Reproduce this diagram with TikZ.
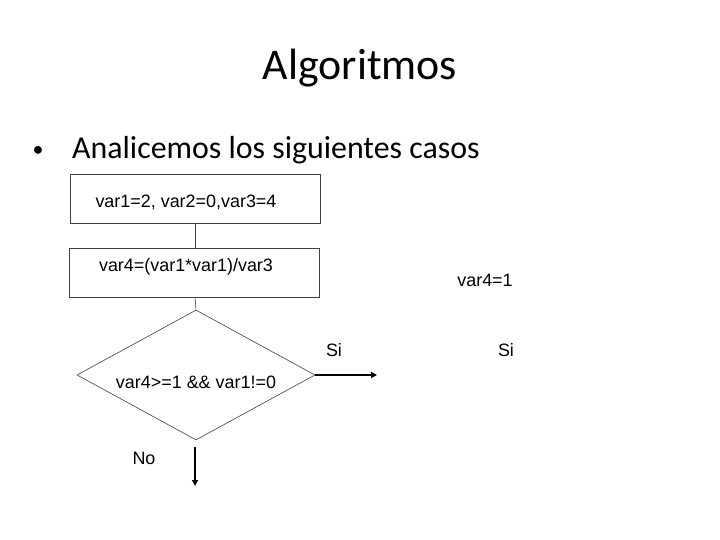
\documentclass[tikz,border=0pt]{standalone}
\usepackage{fontspec}
\setmainfont{Carlito}
\newfontfamily\arialfont{Liberation Sans}
\usetikzlibrary{
  shapes.geometric,
  arrows.meta,
  positioning
}

\begin{document}
\begin{tikzpicture}[
  x = 1bp,
  y = -1bp,
  % ── Process box ─────────────────────────────────────────
  procbox/.style={
    rectangle,
    draw       = black!75,
    line width = 0.6bp,
    minimum width  = 250bp,
    minimum height = 49bp,
    inner sep  = 0pt
  },
  % ── Decision diamond ────────────────────────────────────
  decision/.style={
    diamond,
    draw       = black!75,
    line width = 0.6bp,
    minimum width  = 238bp,
    minimum height = 130bp,
    inner sep  = 0pt
  },
  % ── Lines and arrows ────────────────────────────────────
  link/.style={
    draw = black!75,
    line width = 0.6bp
  },
  arr/.style={
    -{Triangle[length=6bp, width=6bp]},
    line width = 1.6bp
  },
  % ── Text ────────────────────────────────────────────────
  lbl/.style={
    font  = \arialfont\fontsize{18}{20}\selectfont,
    inner sep = 0pt
  }
]

% ── Frame ──────────────────────────────────────────────────
\useasboundingbox (0,0) rectangle (720,540);

% ── Heading ────────────────────────────────────────────────
\node[font=\fontsize{44}{48}\selectfont] (title) at (360,68) {Algoritmos};
\node[font=\fontsize{22}{24}\selectfont] (dot) at (38,151) {\textbullet};
\node[font=\fontsize{32}{36}\selectfont, anchor=west, inner sep=0pt] (bullet) at (72,150)
  {Analicemos los siguientes casos};

% ── Nodes ──────────────────────────────────────────────────
\node[procbox] (init) at (195,199) {};
\node[lbl] at (186,202) {var1=2, var2=0,var3=4};

\node[procbox] (calc) at (194,272.5) {};
\node[lbl] at (186,267) {var4=(var1*var1)/var3};

\node[decision] (cond) at (196,375) {};
\node[lbl] at (196,382) {var4>=1 \&\& var1!=0};

\coordinate (yes) at (377,375);
\coordinate (nostart) at (195,447);
\coordinate (no) at (195,486);

% ── Connectors ─────────────────────────────────────────────
\draw[link] (init.south -| 195,0) -- (calc.north -| 195,0);
\draw[link] (calc.south -| 195,0) -- (cond.north);
\draw[arr] (cond.east) -- (yes);
\draw[arr] (nostart) -- (no);

% ── Labels ─────────────────────────────────────────────────
\node[lbl] (si1) at (334,350) {Si};
\node[lbl] (no1) at (144,458) {No};
\node[lbl] (res) at (485,280) {var4=1};
\node[lbl] (si2) at (506,350) {Si};

\end{tikzpicture}
\end{document}
